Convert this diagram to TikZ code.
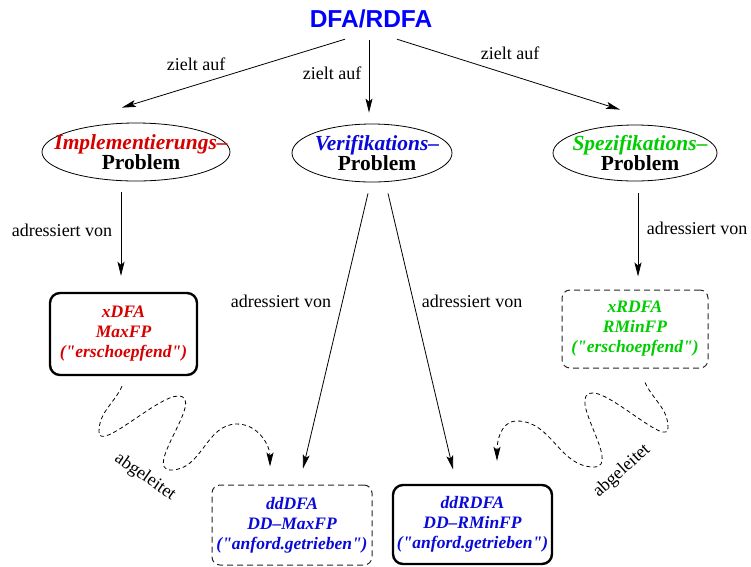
\documentclass[tikz,border=0pt]{standalone}
\usepackage{fontspec}
\setmainfont{Liberation Serif}
\newfontfamily\headfont{Liberation Sans}
\usetikzlibrary{arrows.meta,shapes.geometric}
\definecolor{tblue}{RGB}{0,0,255}
\definecolor{fblue}{RGB}{10,10,215}
\definecolor{fred}{RGB}{215,0,0}
\definecolor{fgreen}{RGB}{0,205,0}
\newcommand\qd{\textquotedbl}
\tikzset{
  prob/.style={draw,ellipse,line width=0.8pt,inner sep=0pt},
  probtext/.style={inner sep=0pt,xshift=5pt,align=center,font=\bfseries\fontsize{21.5}{20}\selectfont},
  solidbox/.style={draw,rounded corners=10pt,line width=2.4pt,inner sep=0pt,align=center,font=\bfseries\itshape\fontsize{17.5}{20}\selectfont},
  dashbox/.style={draw=black!85,rounded corners=8pt,line width=1pt,dash pattern=on 6pt off 4pt,inner sep=0pt,align=center,font=\bfseries\itshape\fontsize{17.5}{20}\selectfont},
  arr/.style={-{Stealth[length=14pt,width=7pt,inset=3pt]},line width=0.8pt},
  squig/.style={arr,dash pattern=on 4pt off 3pt},
  lbl/.style={font=\fontsize{18}{20}\selectfont,inner sep=0pt}
}
\begin{document}
\begin{tikzpicture}[x=1pt,y=1pt]
\useasboundingbox (0,0) rectangle (751,-566);
% titel und probleme
\node[inner sep=0pt,text height=18pt,text depth=5pt,text=tblue,font=\headfont\bfseries\fontsize{24.5}{26}\selectfont] (dfa) at (371,-20.5) {DFA/RDFA};
\node[prob,minimum width=188pt,minimum height=58pt,label={[probtext]center:\textcolor{fred}{\itshape Implementierungs--}\\Problem}] (implp) at (136,-152) {};
\node[prob,minimum width=160pt,minimum height=58pt,label={[probtext]center:\textcolor{fblue}{\itshape Verifikations--}\\Problem}] (verp) at (372,-153) {};
\node[prob,minimum width=164pt,minimum height=56pt,label={[probtext]center:\textcolor{fgreen}{\itshape Spezifikations--}\\Problem}] (specp) at (635,-153) {};
% verfahren
\node[solidbox,text=fred,minimum width=147pt,minimum height=82pt] (xdfa) at (123.5,-334) {xDFA\\MaxFP\\(\qd erschoepfend\qd)};
\node[dashbox,text=fgreen,minimum width=146pt,minimum height=78pt] (xrdfa) at (635,-329) {xRDFA\\RMinFP\\(\qd erschoepfend\qd)};
\node[dashbox,text=fblue,minimum width=160pt,minimum height=80pt] (dddfa) at (292,-525) {ddDFA\\DD--MaxFP\\(\qd anford.getrieben\qd)};
\node[solidbox,text=fblue,minimum width=159pt,minimum height=79pt] (ddrdfa) at (472.5,-524.5) {ddRDFA\\DD--RMinFP\\(\qd anford.getrieben\qd)};
% beschriftungen
\node[lbl] (z1) at (196,-64) {zielt auf};
\node[lbl] (z2) at (332,-73) {zielt auf};
\node[lbl] (z3) at (510,-53) {zielt auf};
\node[lbl] (a1) at (62,-230) {adressiert von};
\node[lbl] (a2) at (281,-301) {adressiert von};
\node[lbl] (a3) at (472,-301) {adressiert von};
\node[lbl] (a4) at (697,-228) {adressiert von};
\node[lbl,rotate=-35] (g1) at (145,-477) {abgeleitet};
\node[lbl,rotate=42] (g2) at (622,-471) {abgeleitet};
% pfeile
\draw[arr] ([xshift=-26pt,yshift=-7pt]dfa.south) -- ([xshift=-14pt,yshift=15pt]implp.north);
\draw[arr] ([xshift=-2pt,yshift=-8pt]dfa.south) -- ([xshift=-3pt,yshift=11pt]verp.north);
\draw[arr] ([xshift=26pt,yshift=-7pt]dfa.south) -- ([xshift=-15pt,yshift=15pt]specp.north);
\draw[arr] ([xshift=-15pt,yshift=-11pt]implp.south) -- ([xshift=-2.5pt,yshift=16pt]xdfa.north);
\draw[arr] ([xshift=3pt,yshift=-12pt]specp.south) -- ([xshift=3pt,yshift=13pt]xrdfa.north);
\draw[arr] ([xshift=-4pt,yshift=-11pt]verp.south) -- ([xshift=11pt,yshift=16pt]dddfa.north);
\draw[arr] ([xshift=16pt,yshift=-11pt]verp.south) -- ([xshift=-19.5pt,yshift=14.5pt]ddrdfa.north);
\draw[squig] ([xshift=-1.5pt,yshift=-10pt]xdfa.south) to[out=-115,in=90] (99,-432) to[out=-90,in=180,looseness=0.6] (178,-396) to[out=0,in=180] (171,-470) to[out=0,in=180] (237,-424) to[out=0,in=90] ([xshift=-22pt,yshift=18pt]dddfa.north);
\draw[squig] ([xshift=10pt,yshift=-14pt]xrdfa.south) to[out=-65,in=90] (668,-428) to[out=-90,in=0,looseness=0.6] (593,-393) to[out=180,in=0] (594,-467) to[out=180,in=0] (517,-421) to[out=180,in=90] ([xshift=24.5pt,yshift=23pt]ddrdfa.north);
\end{tikzpicture}
\end{document}
